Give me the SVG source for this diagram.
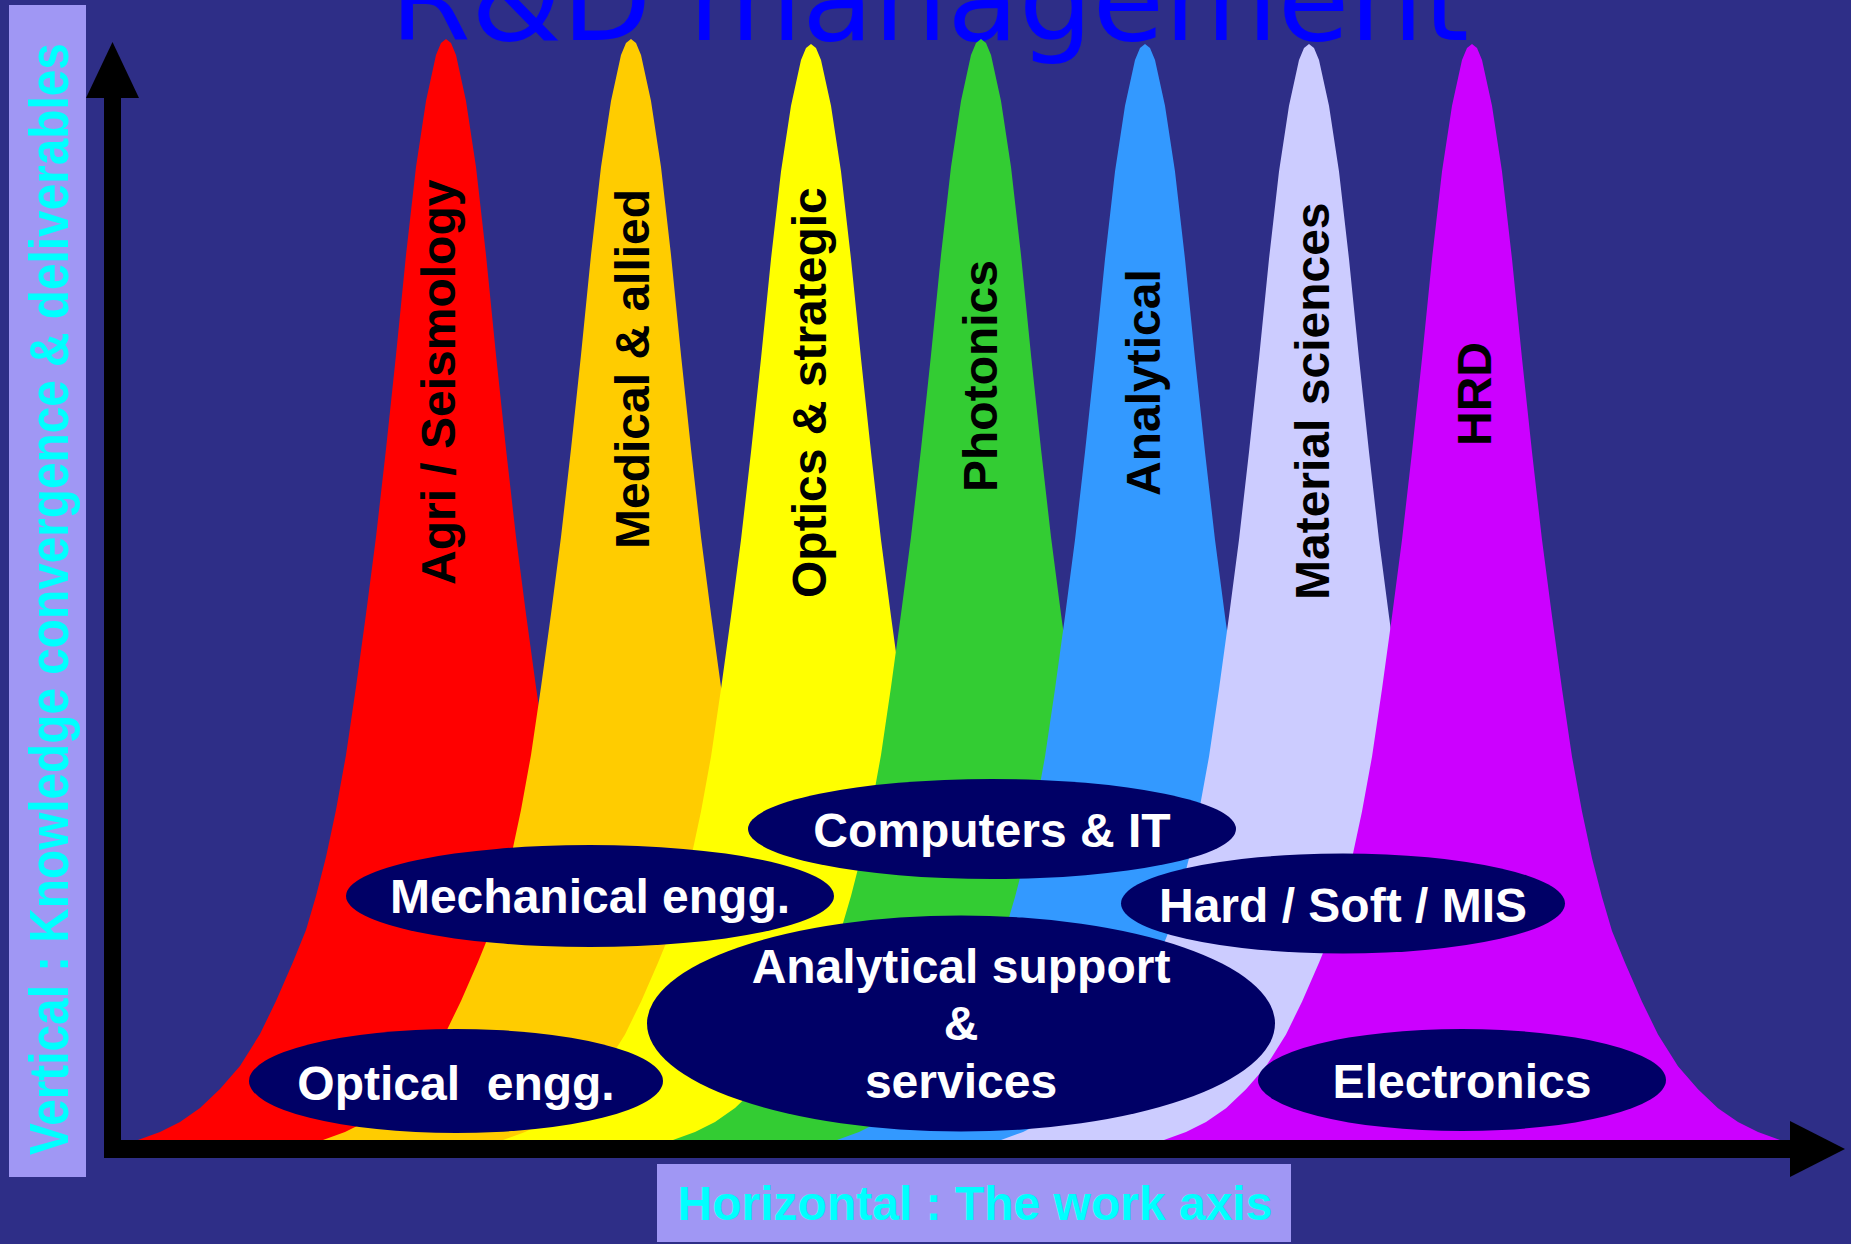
<svg xmlns="http://www.w3.org/2000/svg" xmlns:xlink="http://www.w3.org/1999/xlink" width="1851" height="1244" viewBox="0 0 1851 1244">
<style>
.t{font-family:"Liberation Sans",Arial,Helvetica,sans-serif;font-weight:bold;font-size:48px;}
.pk{fill:#000000;}
.ell{fill:#000066;}
.et{fill:#FFFFFF;text-anchor:middle;}
.ax{fill:#000000;}
.box{fill:#A097F4;}
.cy{fill:#00FFFF;}
.title{font-family:"DejaVu Sans",Verdana,sans-serif;font-size:116.5px;fill:#0000FF;}
</style>
<defs>
<path id="bell" d="M-310,8 L-308,0 L-286,-8 L-266,-18 L-246,-32 L-226,-51 L-206,-74 L-186,-106 L-170,-139 L-153,-178 L-140,-210 L-130,-244 L-120,-283 L-110,-330 L-100,-385 L-90,-453 L-80,-526 L-70,-603 L-60,-691 L-50,-785 L-40,-885 L-30,-973 L-20,-1039 L-10,-1085 L-5,-1097 L0,-1101 L5,-1097 L10,-1085 L20,-1039 L30,-973 L40,-885 L50,-785 L60,-691 L70,-603 L80,-526 L90,-453 L100,-385 L110,-330 L120,-283 L130,-244 L140,-210 L153,-178 L170,-139 L186,-106 L206,-74 L226,-51 L246,-32 L266,-18 L286,-8 L308,0 L310,8 Z"/>
</defs>
<rect x="0" y="0" width="1851" height="1244" fill="#2E2E87"/>
<text class="title" x="390" y="40">R&amp;D management</text>

<g id="peak-agri">
<use xlink:href="#bell" transform="translate(446,1140)" fill="#FF0000"/>
<text class="t pk" transform="translate(455,585) rotate(-90)">Agri / Seismology</text>
</g>
<g id="peak-medical">
<use xlink:href="#bell" transform="translate(631,1140)" fill="#FFCC00"/>
<text class="t pk" transform="translate(649,549) rotate(-90)">Medical &amp; allied</text>
</g>
<g id="peak-optics">
<use xlink:href="#bell" transform="translate(811,1140) scale(1,0.9955)" fill="#FFFF00"/>
<text class="t pk" transform="translate(826,598) rotate(-90)">Optics &amp; strategic</text>
</g>
<g id="peak-photonics">
<use xlink:href="#bell" transform="translate(981,1140)" fill="#33CC33"/>
<text class="t pk" transform="translate(997,492) rotate(-90)">Photonics</text>
</g>
<g id="peak-analytical">
<use xlink:href="#bell" transform="translate(1145,1140) scale(1,0.9955)" fill="#3399FF"/>
<text class="t pk" transform="translate(1160,496) rotate(-90)">Analytical</text>
</g>
<g id="peak-material">
<use xlink:href="#bell" transform="translate(1309,1140) scale(1,0.9955)" fill="#CCCCFF"/>
<text class="t pk" transform="translate(1329,600) rotate(-90)">Material sciences</text>
</g>
<g id="peak-hrd">
<use xlink:href="#bell" transform="translate(1472,1140) scale(1,0.9955)" fill="#CC00FF"/>
<text class="t pk" transform="translate(1491,446) rotate(-90)">HRD</text>
</g>

<g id="node-computers">
<ellipse class="ell" cx="992" cy="829" rx="244" ry="50"/>
<text class="t et" x="992" y="847">Computers &amp; IT</text>
</g>
<g id="node-mechanical">
<ellipse class="ell" cx="590" cy="896" rx="244" ry="51"/>
<text class="t et" x="590" y="913">Mechanical engg.</text>
</g>
<g id="node-hardsoft">
<ellipse class="ell" cx="1343" cy="903.5" rx="222" ry="50"/>
<text class="t et" x="1343" y="922">Hard / Soft / MIS</text>
</g>
<g id="node-analytical-support">
<ellipse class="ell" cx="961" cy="1023.5" rx="314" ry="108"/>
<text class="t et" x="961" y="983">Analytical support</text>
<text class="t et" x="961" y="1040">&amp;</text>
<text class="t et" x="961" y="1098">services</text>
</g>
<g id="node-optical">
<ellipse class="ell" cx="456" cy="1081" rx="207" ry="52"/>
<text class="t et" x="456" y="1100" xml:space="preserve">Optical  engg.</text>
</g>
<g id="node-electronics">
<ellipse class="ell" cx="1462" cy="1080" rx="204" ry="51"/>
<text class="t et" x="1462" y="1098">Electronics</text>
</g>

<g id="axes">
<rect class="ax" x="104" y="96" width="17" height="1062"/>
<polygon class="ax" points="112.5,42 86,98 139,98"/>
<rect class="ax" x="104" y="1140" width="1690" height="18"/>
<polygon class="ax" points="1790,1121 1845,1149 1790,1177"/>
</g>

<g id="label-vertical">
<rect class="box" x="9" y="5" width="77" height="1172"/>
<text class="t cy" transform="translate(68,1155) rotate(-90) scale(0.995,1.146)">Vertical : Knowledge convergence &amp; deliverables</text>
</g>
<g id="label-horizontal">
<rect class="box" x="657" y="1164" width="634" height="78"/>
<text class="t cy" x="975" y="1220" text-anchor="middle">Horizontal : The work axis</text>
</g>
</svg>
